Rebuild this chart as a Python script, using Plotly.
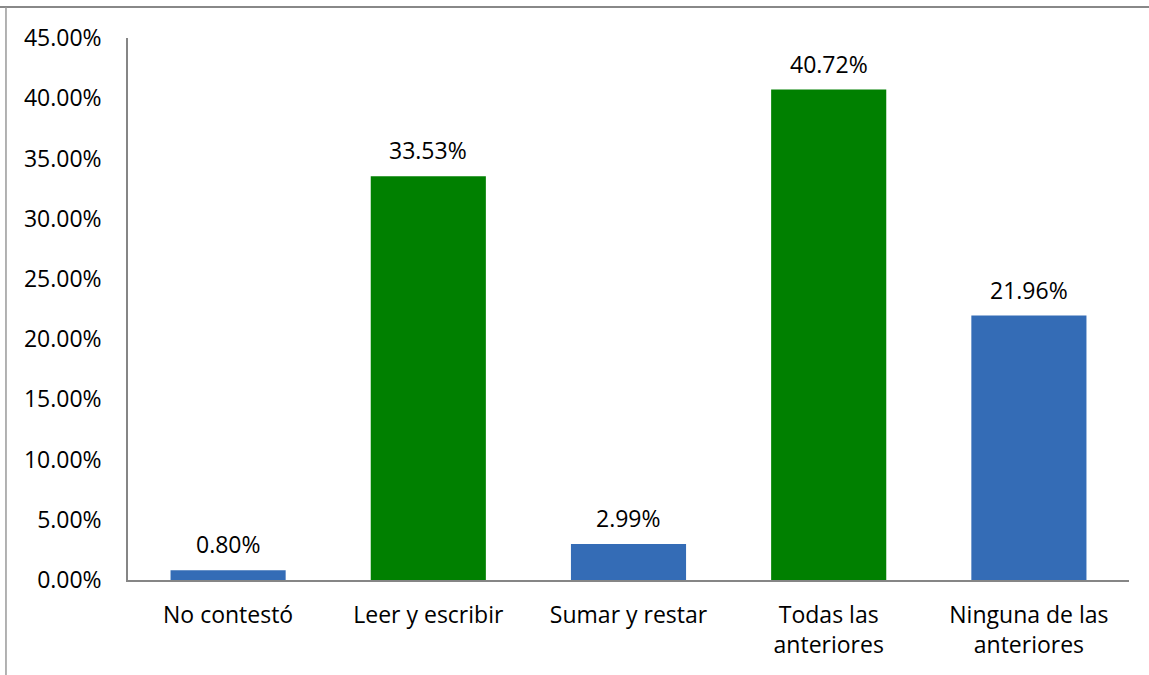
import plotly.graph_objects as go

categories = ["No contestó", "Leer y escribir", "Sumar y restar", "Todas las<br>anteriores", "Ninguna de las<br>anteriores"]
values = [0.0080, 0.3353, 0.0299, 0.4072, 0.2196]
tick_values = [0.0, 0.05, 0.10, 0.15, 0.20, 0.25, 0.30, 0.35, 0.40, 0.45]

BLUE = "#346CB6"
GREEN = "#008000"
bar_colors = [BLUE, GREEN, BLUE, GREEN, BLUE]

FONT = "Open Sans"
FS = 23

fig = go.Figure()
fig.add_trace(go.Bar(
    x=categories,
    y=values,
    marker=dict(color=bar_colors, line=dict(width=0)),
    width=0.575,
    hoverinfo="skip",
))

for c, v in zip(categories, values):
    fig.add_annotation(
        x=c, y=v, xref="x", yref="y",
        text=f"{v*100:.2f}%",
        showarrow=False,
        yshift=26,
        font=dict(family=FONT, size=FS, color="#000000"),
    )

fig.update_layout(
    width=1149, height=675,
    margin=dict(l=128, r=20, t=38, b=95),
    paper_bgcolor="white",
    plot_bgcolor="white",
    showlegend=False,
    font=dict(family=FONT, size=FS, color="#000000"),
    xaxis=dict(
        showline=True, linecolor="#868686", linewidth=1.5,
        showgrid=False, ticks="", ticklabelstandoff=14,
        tickfont=dict(family=FONT, size=FS, color="#000000"),
    ),
    yaxis=dict(
        range=[0, 0.45],
        tickvals=tick_values,
        tickformat=".2%",
        showline=True, linecolor="#868686", linewidth=1.5,
        showgrid=False, zeroline=False, ticks="", ticklabelstandoff=20,
        tickfont=dict(family=FONT, size=FS, color="#000000"),
    ),
    shapes=[
        dict(type="line", xref="paper", yref="paper",
             x0=-0.2, x1=1.1, y0=1.0572, y1=1.0572,
             line=dict(color="#888888", width=2)),
        dict(type="line", xref="paper", yref="paper",
             x0=-0.1219, x1=-0.1219, y0=1.0572, y1=-0.3,
             line=dict(color="#999999", width=1.5)),
    ],
)

fig.write_html(
    "out.html",
    config={"displayModeBar": False},
    post_script="document.body.style.margin='0';",
)
